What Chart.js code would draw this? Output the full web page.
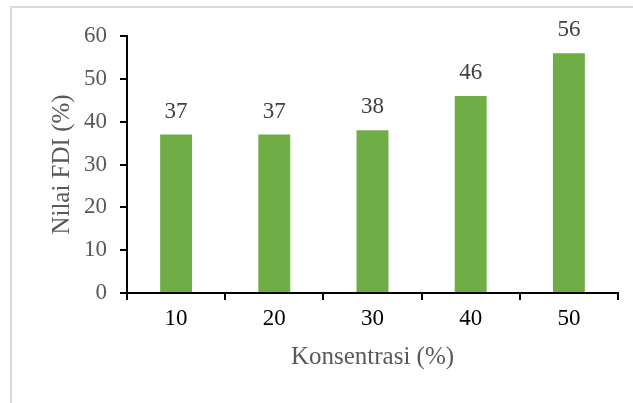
<!DOCTYPE html>
<html>
<head>
<meta charset="utf-8">
<script src="https://cdn.jsdelivr.net/npm/chart.js@4.4.0/dist/chart.umd.min.js"></script>
<style>
  html, body { margin: 0; padding: 0; background: #fff; }
  #wrap { position: relative; width: 633px; height: 403px; }
  #frame {
    position: absolute; left: 10px; top: 6px; right: 0; bottom: 0;
    border-top: 2px solid #d9d9d9; border-left: 2px solid #d9d9d9;
    pointer-events: none;
  }
  canvas { position: absolute; left: 0; top: 0; }
</style>
</head>
<body>
<div id="wrap">
  <canvas id="bar-chart" width="633" height="403"></canvas>
  <div id="frame"></div>
</div>
<script>
const konsentrasi = ['10', '20', '30', '40', '50'];
const nilaiFDI = [37, 37, 38, 46, 56];
const yTicks = [0, 10, 20, 30, 40, 50, 60];

const serif = "'Liberation Serif', 'Times New Roman', serif";

// value labels above bars
const barLabels = {
  id: 'barLabels',
  afterDatasetsDraw(chart) {
    const ctx = chart.ctx;
    const meta = chart.getDatasetMeta(0);
    ctx.save();
    ctx.font = '23px ' + serif;
    ctx.fillStyle = '#404040';
    ctx.textAlign = 'center';
    ctx.textBaseline = 'alphabetic';
    meta.data.forEach((bar, i) => {
      ctx.fillText(String(nilaiFDI[i]), bar.x, bar.y - 17);
    });
    ctx.restore();
  }
};

const config = {
  type: 'bar',
  data: {
    labels: konsentrasi,
    datasets: [{
      data: nilaiFDI,
      backgroundColor: '#70AD47',
      borderWidth: 0,
      categoryPercentage: 1,
      barPercentage: 0.325
    }]
  },
  options: {
    responsive: false,
    animation: false,
    layout: { padding: { top: 36, right: 15, left: 0, bottom: 0 } },
    plugins: {
      legend: { display: false },
      tooltip: { enabled: false }
    },
    scales: {
      x: {
        offset: true,
        grid: {
          offset: true,
          drawOnChartArea: false,
          drawTicks: true,
          tickLength: 7,
          color: '#000',
          lineWidth: 2
        },
        border: { display: true, color: '#000', width: 2 },
        ticks: {
          color: '#000',
          padding: 5,
          font: { family: serif, size: 23 }
        },
        title: {
          display: true,
          text: 'Konsentrasi (%)',
          color: '#595959',
          font: { family: serif, size: 25 },
          padding: { top: 0, bottom: 31 }
        },
        afterFit(scale) { scale.height = 403 - 293; }
      },
      y: {
        min: 0,
        max: 60,
        afterBuildTicks(scale) {
          scale.ticks = yTicks.map(v => ({ value: v }));
        },
        grid: {
          drawOnChartArea: false,
          drawTicks: true,
          tickLength: 7,
          color: '#000',
          lineWidth: 2
        },
        border: { display: true, color: '#000', width: 2 },
        ticks: {
          color: '#595959',
          padding: 13,
          font: { family: serif, size: 23 }
        },
        title: {
          display: true,
          text: 'Nilai FDI (%)',
          color: '#595959',
          font: { family: serif, size: 25 },
          padding: { top: 47, bottom: 0 }
        },
        afterFit(scale) { scale.width = 127; }
      }
    }
  },
  plugins: [barLabels]
};

const ctx = document.getElementById('bar-chart').getContext('2d');
new Chart(ctx, config);
</script>
</body>
</html>
